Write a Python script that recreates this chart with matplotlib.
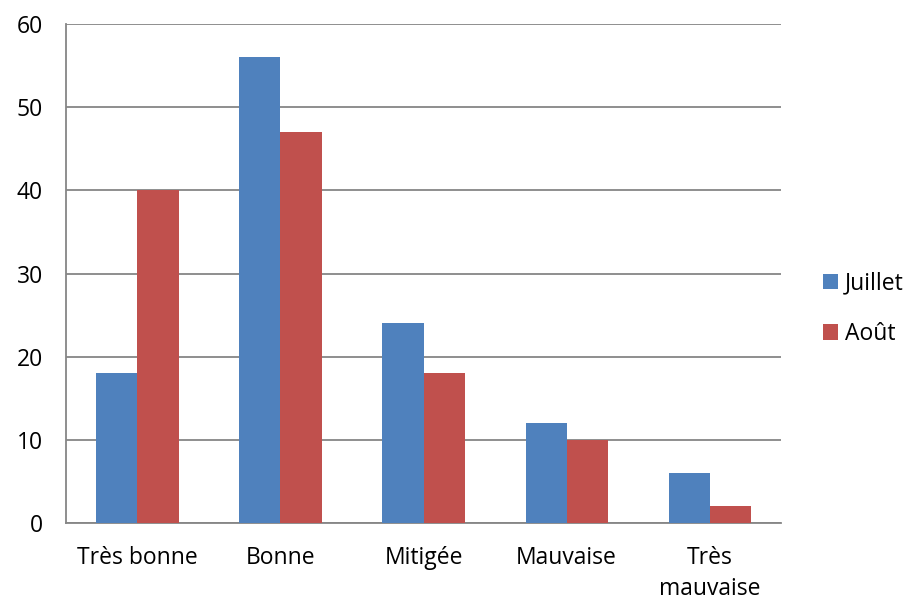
import matplotlib.pyplot as plt
import numpy as np

plt.rcParams['font.family'] = ['Open Sans', 'DejaVu Sans']

categories = ['Très bonne', 'Bonne', 'Mitigée', 'Mauvaise', 'Très\nmauvaise']
juillet = [18, 56, 24, 12, 6]
aout = [40, 47, 18, 10, 2]

fig = plt.figure(figsize=(9.11, 6.0), dpi=100)
ax = fig.add_axes([0.0724, 0.1283, 0.785, 0.8317])

x = np.arange(len(categories))
w = 0.287
ax.bar(x - w / 2, juillet, w, color='#4F81BD', label='Juillet', zorder=3)
ax.bar(x + w / 2, aout, w, color='#C0504D', label='Août', zorder=3)

fs = 16.5
ax.set_xlim(-0.5, len(categories) - 0.5)
ax.set_ylim(0, 60)
ax.set_yticks(range(0, 61, 10))
ax.grid(axis='y', color='#868686', linewidth=1.3, zorder=0)
ax.set_xticks(x)
ax.set_xticklabels(categories, fontsize=fs, linespacing=1.4)
ax.tick_params(axis='both', length=0, labelsize=fs)
ax.tick_params(axis='y', pad=16.5)
ax.tick_params(axis='x', pad=16.5)
for s in ['top', 'right']:
    ax.spines[s].set_visible(False)
for s in ['left', 'bottom']:
    ax.spines[s].set_color('#868686')
    ax.spines[s].set_linewidth(1.3)

ax.legend(loc='center left', bbox_to_anchor=(1.03, 0.429), frameon=False,
          fontsize=fs, handlelength=0.65, handleheight=0.65, handletextpad=0.3,
          labelspacing=1.15)

fig.savefig('out.png', dpi=100)
